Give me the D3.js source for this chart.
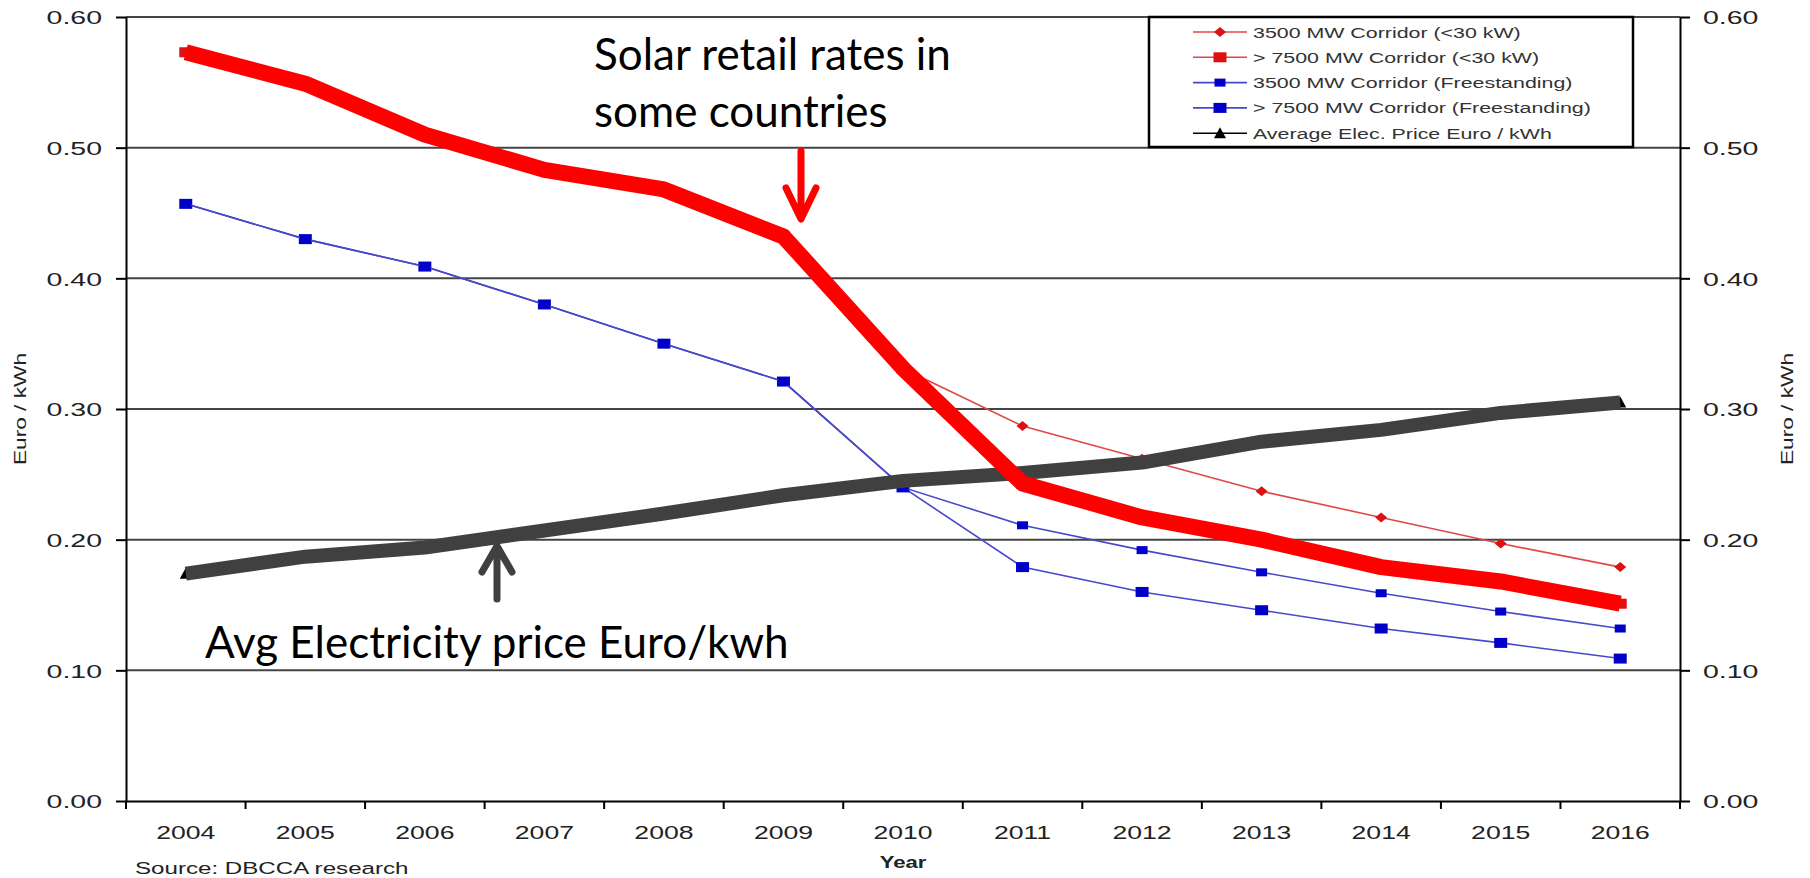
<!DOCTYPE html>
<html>
<head>
<meta charset="utf-8">
<script src="https://cdn.jsdelivr.net/npm/d3@7"></script>
<style>
  body { margin: 0; background: #fff; }
  svg text { font-family: "Liberation Sans", Arial, sans-serif; fill: #222; }
  .note { font-family: Lato, "Open Sans", sans-serif !important; fill: #000 !important; }
</style>
</head>
<body>
<script>
// data (Euro / kWh)
var years = ["2004", "2005", "2006", "2007", "2008", "2009", "2010", "2011", "2012", "2013", "2014", "2015", "2016"];
var yTicks = [0, 0.1, 0.2, 0.3, 0.4, 0.5, 0.6];
var roof3500 = [0.573, 0.549, 0.510, 0.483, 0.468, 0.432, 0.331, 0.287, 0.262, 0.237, 0.217, 0.197, 0.179];
var roof7500 = [0.573, 0.549, 0.510, 0.483, 0.468, 0.432, 0.331, 0.243, 0.217, 0.200, 0.179, 0.168, 0.151];
var free3500 = [0.457, 0.430, 0.409, 0.380, 0.350, 0.321, 0.240, 0.211, 0.192, 0.175, 0.159, 0.145, 0.132];
var free7500 = [0.457, 0.430, 0.409, 0.380, 0.350, 0.321, 0.240, 0.179, 0.160, 0.146, 0.132, 0.121, 0.109];
var avgPrice = [0.174, 0.187, 0.194, 0.207, 0.220, 0.234, 0.245, 0.251, 0.259, 0.275, 0.284, 0.297, 0.305];
var seriesNames = ["3500 MW Corridor (<30 kW)", "> 7500 MW Corridor (<30 kW)", "3500 MW Corridor (Freestanding)",
                   "> 7500 MW Corridor (Freestanding)", "Average Elec. Price Euro / kWh"];

var margin = {top: 17, right: 130, bottom: 77, left: 126}
  , width = 1810 - margin.left - margin.right
  , height = 878 - margin.top - margin.bottom;
var wide = 1.42; // glyphs in the source are much wider than Arial

var root = d3.select("body").append("svg")
    .attr("width", 1810)
    .attr("height", 878);
var svg = root.append("g")
    .attr("transform", "translate(" + margin.left + "," + margin.top + ")");

var xScale = d3.scaleBand().domain(years).range([0, width]);
var yScale = d3.scaleLinear().domain([0, 0.6]).range([height, 0]);
var xMid = function(d) { return xScale(d) + xScale.bandwidth() / 2; };

// grid
svg.append("g").selectAll("line")
  .data(yTicks.slice(1))
  .enter().append("line")
    .attr("x1", 0).attr("x2", width)
    .attr("y1", function(d) { return yScale(d); })
    .attr("y2", function(d) { return yScale(d); })
    .attr("stroke", "#444").attr("stroke-width", 2);

// axes
var fmt = d3.format(".2f");
var yl = svg.append("g").attr("class", "y axis")
    .call(d3.axisLeft(yScale).tickValues(yTicks).tickFormat(fmt).tickSize(10).tickSizeOuter(0));
yl.selectAll("text").attr("x", 0).attr("dy", "0.36em")
    .attr("transform", "translate(-24,0) scale(1.5,1)").style("font-size", "19px");

var yr = svg.append("g").attr("class", "y axis")
    .attr("transform", "translate(" + width + ",0)")
    .call(d3.axisRight(yScale).tickValues(yTicks).tickFormat(fmt).tickSize(10).tickSizeOuter(0));
yr.selectAll("text").attr("x", 0).attr("dy", "0.36em")
    .attr("transform", "translate(23,0) scale(1.5,1)").style("font-size", "19px");

var xa = svg.append("g").attr("class", "x axis")
    .attr("transform", "translate(0," + height + ")")
    .call(d3.axisBottom(xScale).tickSize(0).tickSizeOuter(0));
xa.selectAll("text").attr("y", 0).attr("dy", null)
    .attr("transform", "translate(0,38) scale(1.4,1)").style("font-size", "19px");
// tick marks sit on the category boundaries
xa.selectAll(".edge").data(years.concat(["end"]))
  .enter().append("line").attr("class", "edge")
    .attr("x1", function(d) { return d == "end" ? width : xScale(d); })
    .attr("x2", function(d) { return d == "end" ? width : xScale(d); })
    .attr("y1", 0).attr("y2", 8)
    .attr("stroke", "#000").attr("stroke-width", 2);

root.selectAll(".axis path, .axis line").attr("stroke", "#000").attr("stroke-width", 2);

// axis titles
svg.append("text")
    .attr("transform", "translate(-100," + yScale(0.3) + ") rotate(-90) scale(" + wide + ",1)")
    .style("text-anchor", "middle").style("font-size", "16px")
    .text("Euro / kWh");
svg.append("text")
    .attr("transform", "translate(" + (width + 113) + "," + yScale(0.3) + ") rotate(-90) scale(" + wide + ",1)")
    .style("text-anchor", "middle").style("font-size", "16px")
    .text("Euro / kWh");
svg.append("text")
    .attr("transform", "translate(" + xMid("2010") + "," + (height + 67) + ") scale(1.3,1)")
    .style("text-anchor", "middle").style("font-size", "17px").style("font-weight", "bold")
    .text("Year");
root.append("text")
    .attr("transform", "translate(135,874) scale(" + wide + ",1)")
    .style("font-size", "17px")
    .text("Source: DBCCA research");

// markers
function marker(g, type, color) {
  if (type == "diamond") {
    g.append("path").attr("d", "M-6,0L0,-5L6,0L0,5Z").attr("fill", color);
  } else if (type == "triangle") {
    g.append("path").attr("d", "M-6,5L0,-6L6,5Z").attr("fill", color);
  } else {
    var w = type == "big" ? 13 : 11, h = type == "big" ? 10 : 8;
    g.append("rect").attr("x", -w / 2).attr("y", -h / 2).attr("width", w).attr("height", h).attr("fill", color);
  }
}

var line = d3.line()
    .x(function(d, i) { return xMid(years[i]); })
    .y(function(d) { return yScale(d); });

var series = [
  {values: free7500, line: "#4848c8", dot: "#0000c8", type: "big"},
  {values: free3500, line: "#4848c8", dot: "#0000c8", type: "small"},
  {values: roof3500, line: "#e04848", dot: "#dd1111", type: "diamond"},
  {values: roof7500, line: "#e04848", dot: "#dd1111", type: "big"},
  {values: avgPrice, line: "#000", dot: "#000", type: "triangle"}
];

series.forEach(function(s) {
  svg.append("path")
    .attr("d", line(s.values))
    .attr("fill", "none").attr("stroke", s.line).attr("stroke-width", 1.6);
  s.values.forEach(function(v, i) {
    marker(svg.append("g").attr("transform", "translate(" + xMid(years[i]) + "," + yScale(v) + ")"), s.type, s.dot);
  });
});

// heavy overlay lines
svg.append("path")
    .attr("d", line(avgPrice))
    .attr("fill", "none").attr("stroke", "#404040").attr("stroke-width", 14).attr("stroke-linejoin", "round");
svg.append("path")
    .attr("d", line(roof7500))
    .attr("fill", "none").attr("stroke", "#ff0000").attr("stroke-width", 16).attr("stroke-linejoin", "round");

// legend
var lg = root.append("g").attr("transform", "translate(1149,17)");
lg.append("rect").attr("width", 484).attr("height", 130)
    .attr("fill", "#fff").attr("stroke", "#000").attr("stroke-width", 2.5);
var legendKeys = [series[2], series[3], series[1], series[0], series[4]];
legendKeys.forEach(function(s, i) {
  var row = lg.append("g").attr("transform", "translate(0," + (15 + i * 25.3) + ")");
  row.append("line").attr("x1", 44).attr("x2", 98).attr("stroke", s.line).attr("stroke-width", 1.6);
  marker(row.append("g").attr("transform", "translate(71,0)"), s.type, s.dot);
  row.append("text")
    .attr("transform", "translate(104,0) scale(1.38,1)")
    .attr("dy", "0.36em").style("font-size", "15.5px").style("fill", "#333")
    .text(seriesNames[i]);
});

// annotations
root.append("text").attr("class", "note").attr("x", 594).attr("y", 70)
    .style("font-size", "44px").text("Solar retail rates in");
root.append("text").attr("class", "note").attr("x", 594).attr("y", 127)
    .style("font-size", "44px").text("some countries");
root.append("path").attr("d", "M801,151L801,218M786,188L801,219L816,188")
    .attr("fill", "none").attr("stroke", "#ff0000").attr("stroke-width", 7)
    .attr("stroke-linecap", "round").attr("stroke-linejoin", "round");

root.append("text").attr("class", "note").attr("x", 205).attr("y", 658)
    .style("font-size", "44px").text("Avg Electricity price Euro/kwh");
root.append("path").attr("d", "M497,599L497,547M482,572L497,546L512,572")
    .attr("fill", "none").attr("stroke", "#404040").attr("stroke-width", 7)
    .attr("stroke-linecap", "round").attr("stroke-linejoin", "round");
</script>
</body>
</html>
